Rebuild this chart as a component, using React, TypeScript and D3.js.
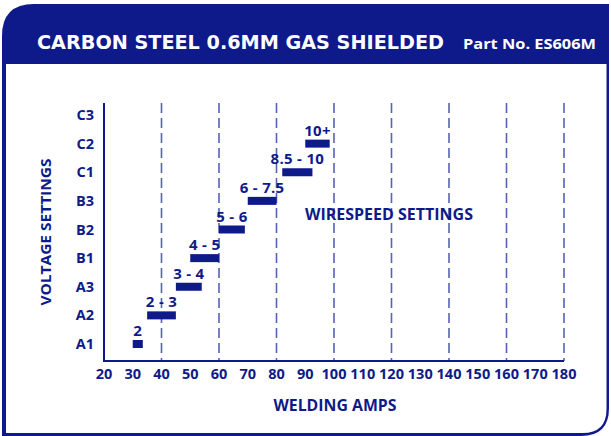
import React from 'react'
import * as d3 from 'd3'

// voltage settings, bottom to top
const voltages = ['A1', 'A2', 'A3', 'B1', 'B2', 'B3', 'C1', 'C2', 'C3']
// amp range per voltage setting (C3 has none)
const ampFrom = [30, 35, 45, 50, 60, 70, 82, 90]
const ampTo = [33.5, 45, 54, 60, 69, 80, 92.5, 98.5]
const wireLabels = ['2', '2 - 3', '3 - 4', '4 - 5', '5 - 6', '6 - 7.5', '8.5 - 10', '10+']
const ampTicks = d3.range(20, 181, 10)
const gridTicks = [40, 60, 80, 100, 120, 140, 160, 180]

const BLUE = '#0f1a8a'
const GRID = '#5663b3'
const FONT = '"Open Sans", "DejaVu Sans", sans-serif'

export default function App() {
  const width = 611
  const height = 436

  const x = d3.scaleLinear().domain([20, 180]).range([104, 564])
  const y = d3.scalePoint<string>().domain(voltages).range([344, 115])
  const y0 = 361
  const yTop = 103
  const barH = 8

  // frame: rounded top-left and bottom-right
  const outer = `M2,${4 + 32} Q2,4 ${2 + 32},4 L609,4 L609,${436 - 28} Q609,436 ${609 - 28},436 L2,436 Z`
  const inner = `M6,64 L606.5,64 L606.5,${433 - 24} Q606.5,433 ${606.5 - 24},433 L6,433 Z`

  const bars = ampFrom.map((a, i) => ({ v: voltages[i], a0: a, a1: ampTo[i], label: wireLabels[i] }))

  return (
    <svg width={width} height={height} style={{ position: 'absolute', left: 0, top: 0 }}>
      <path d={outer} fill={BLUE} />
      <path d={inner} fill="#fff" />

      <text x={37} y={49} fill="#fff" fontFamily='"DejaVu Sans", sans-serif' fontWeight="bold"
        fontSize={19} textLength={407} lengthAdjust="spacingAndGlyphs">
        CARBON STEEL 0.6MM GAS SHIELDED
      </text>
      <text x={463} y={49} fill="#fff" fontFamily={FONT} fontWeight="bold" fontSize={15}
        textLength={133} lengthAdjust="spacingAndGlyphs">
        Part No. ES606M
      </text>

      {/* dashed grid */}
      {gridTicks.map(t => (
        <line key={t} x1={x(t)} x2={x(t)} y1={yTop} y2={y0} stroke={GRID} strokeWidth={1.6}
          strokeDasharray="10,5" />
      ))}

      {/* axes */}
      <line x1={x(20)} x2={x(20)} y1={yTop} y2={y0 + 1} stroke={BLUE} strokeWidth={2} />
      <line x1={x(20) - 1} x2={x(180)} y1={y0} y2={y0} stroke={BLUE} strokeWidth={2} />

      {ampTicks.map(t => (
        <text key={t} x={x(t)} y={379} textAnchor="middle" fill={BLUE} fontFamily={FONT}
          fontWeight="bold" fontSize={14.5}>
          {t}
        </text>
      ))}
      {voltages.map(v => (
        <text key={v} x={94} y={y(v)! + 5} textAnchor="end" fill={BLUE} fontFamily={FONT}
          fontWeight="bold" fontSize={14.5}>
          {v}
        </text>
      ))}

      {/* bars */}
      {bars.map(b => (
        <g key={b.v}>
          <rect x={x(b.a0)} y={y(b.v)! - barH / 2} width={x(b.a1) - x(b.a0)} height={barH} fill={BLUE} />
          <text x={(x(b.a0) + x(b.a1)) / 2} y={y(b.v)! - 8} textAnchor="middle" fill={BLUE}
            fontFamily={FONT} fontWeight="bold" fontSize={15} letterSpacing={0.3}>
            {b.label}
          </text>
        </g>
      ))}

      <text x={389} y={220} textAnchor="middle" fill={BLUE} fontFamily={FONT} fontWeight="bold" fontSize={16}
        textLength={168} lengthAdjust="spacingAndGlyphs">
        WIRESPEED SETTINGS
      </text>
      <text x={335} y={411} textAnchor="middle" fill={BLUE} fontFamily={FONT} fontWeight="bold" fontSize={16}
        textLength={123} lengthAdjust="spacingAndGlyphs">
        WELDING AMPS
      </text>
      <text transform="translate(51,232) rotate(-90)" textAnchor="middle" fill={BLUE} fontFamily={FONT}
        fontWeight="bold" fontSize={15} textLength={147} lengthAdjust="spacingAndGlyphs">
        VOLTAGE SETTINGS
      </text>
    </svg>
  )
}
